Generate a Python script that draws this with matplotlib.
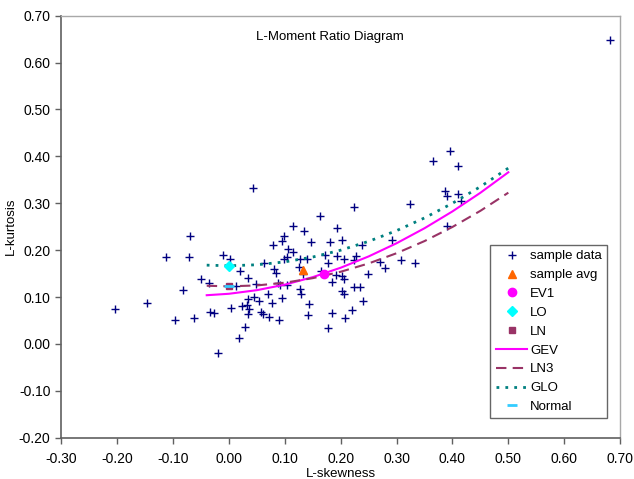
import numpy as np
import matplotlib
matplotlib.use('Agg')
import matplotlib.pyplot as plt

plt.rcParams['font.family'] = ['Liberation Sans', 'DejaVu Sans']
plt.rcParams['font.size'] = 9.5

sample_skew = [
    0.042, -0.070, -0.113, -0.071, -0.010, 0.002, -0.051, -0.036, -0.082, -0.147,
    -0.205, -0.096, -0.062, -0.034, -0.027, -0.020, 0.012,
    0.115, 0.134, 0.098, 0.094, 0.079, 0.106, 0.115, 0.104, 0.099, 0.127,
    0.063, 0.081, 0.084, 0.020, 0.034, 0.125, 0.132, 0.048, 0.088, 0.091,
    0.104, 0.127, 0.129, 0.034, 0.045, 0.054, 0.070, 0.094, 0.076, 0.024,
    0.033, 0.036, 0.003, 0.057, 0.060, 0.072, 0.034, 0.090, 0.029, 0.018,
    0.224, 0.163, 0.193, 0.147, 0.181, 0.202, 0.238, 0.139, 0.172, 0.193,
    0.205, 0.227, 0.224, 0.177, 0.164, 0.192, 0.203, 0.205, 0.248, 0.185,
    0.202, 0.206, 0.224, 0.234, 0.143, 0.142, 0.185, 0.208, 0.220, 0.239,
    0.177,
    0.396, 0.365, 0.410, 0.387, 0.391, 0.409, 0.415, 0.324, 0.390, 0.291,
    0.270, 0.279, 0.307, 0.333,
    0.682,
]
sample_kurt = [
    0.333, 0.230, 0.186, 0.186, 0.190, 0.181, 0.139, 0.131, 0.115, 0.087,
    0.075, 0.051, 0.055, 0.068, 0.065, -0.019, 0.124,
    0.252, 0.241, 0.230, 0.220, 0.212, 0.202, 0.196, 0.185, 0.181, 0.181,
    0.173, 0.159, 0.151, 0.156, 0.141, 0.165, 0.149, 0.128, 0.129, 0.125,
    0.126, 0.117, 0.107, 0.095, 0.101, 0.092, 0.106, 0.097, 0.087, 0.081,
    0.083, 0.074, 0.076, 0.068, 0.063, 0.058, 0.063, 0.050, 0.037, 0.013,
    0.293, 0.273, 0.247, 0.217, 0.217, 0.222, 0.211, 0.182, 0.190, 0.188,
    0.181, 0.188, 0.179, 0.172, 0.156, 0.147, 0.144, 0.138, 0.149, 0.133,
    0.113, 0.106, 0.121, 0.121, 0.085, 0.062, 0.067, 0.055, 0.072, 0.092,
    0.034,
    0.411, 0.390, 0.380, 0.327, 0.316, 0.319, 0.305, 0.299, 0.252, 0.222,
    0.175, 0.161, 0.179, 0.173,
    0.649,
]

avg_point = (0.132, 0.158)
ev1_point = (0.170, 0.150)
lo_point = (0.000, 0.167)
ln_point = (0.000, 0.123)
normal_point = (0.000, 0.123)

# theoretical curves, values read at these L-skewness positions
curve_skew = [-0.04, 0.00, 0.05, 0.10, 0.15, 0.20, 0.25, 0.30, 0.35, 0.40, 0.45, 0.50]
gev_kurt = [0.1039, 0.1070, 0.1147, 0.1265, 0.1425, 0.1626, 0.1867, 0.2148, 0.2468, 0.2827, 0.3224, 0.3661]
ln3_kurt = [0.1241, 0.1228, 0.1248, 0.1306, 0.1403, 0.1540, 0.1717, 0.1935, 0.2194, 0.2495, 0.2839, 0.3226]
glo_kurt = [0.1680, 0.1667, 0.1688, 0.1750, 0.1854, 0.2000, 0.2188, 0.2417, 0.2688, 0.3000, 0.3354, 0.3750]

x_ticks = np.arange(-0.3, 0.701, 0.1)
y_ticks = np.arange(-0.2, 0.701, 0.1)

fig = plt.figure(figsize=(6.34, 4.79), dpi=100)
ax = fig.add_axes([0.097, 0.0862, 0.881, 0.881])

ax.plot(sample_skew, sample_kurt, '+', color='#000080', ms=6, mew=1.0,
        label='sample data', zorder=3)
ax.plot(*avg_point, '^', color='#FF6600', ms=6, label='sample avg', zorder=5)
ax.plot(*ev1_point, 'o', color='#FF00FF', ms=6, label='EV1', zorder=5)
ax.plot(*lo_point, 'D', color='#00FFFF', ms=5, label='LO', zorder=5)
ax.plot(*ln_point, 's', color='#993366', ms=4.5, label='LN', zorder=5)
ax.plot(curve_skew, gev_kurt, '-', color='#FF00FF', lw=1.5, label='GEV', zorder=4)
ax.plot(curve_skew, ln3_kurt, '--', color='#993366', lw=1.5, dashes=(5, 3),
        label='LN3', zorder=4)
ax.plot(curve_skew, glo_kurt, ':', color='#008080', lw=2.0, dashes=(1, 2.2),
        label='GLO', zorder=4)
ax.plot(*normal_point, '_', color='#33CCFF', ms=7, mew=2, label='Normal', zorder=6)

ax.set_xlim(-0.3, 0.7)
ax.set_ylim(-0.2, 0.7)
ax.set_xticks(x_ticks)
ax.set_yticks(y_ticks)
ax.xaxis.set_major_formatter(plt.FormatStrFormatter('%.2f'))
ax.yaxis.set_major_formatter(plt.FormatStrFormatter('%.2f'))
ax.tick_params(direction='out', length=4, width=1, color='#606060', labelsize=10)
ax.tick_params(axis='x', pad=6)
ax.tick_params(axis='y', pad=4)

for side in ['left', 'bottom']:
    ax.spines[side].set_color('#606060')
    ax.spines[side].set_linewidth(1.2)
for side in ['top', 'right']:
    ax.spines[side].set_color('#a8a8a8')
    ax.spines[side].set_linewidth(1.0)

ax.set_xlabel('L-skewness', fontsize=9.5, labelpad=2)
ax.set_ylabel('L-kurtosis', fontsize=9.5, labelpad=1)
ax.text(0.48, 0.95, 'L-Moment Ratio Diagram', transform=ax.transAxes,
        ha='center', va='center', fontsize=9.5)

leg = ax.legend(loc='upper left', bbox_to_anchor=(0.768, 0.457), fontsize=9.5,
                frameon=True, fancybox=False, borderaxespad=0, borderpad=0.4,
                handlelength=2.4, handletextpad=0.2, labelspacing=0.5,
                numpoints=1)
leg.get_frame().set_edgecolor('#404040')
leg.get_frame().set_linewidth(1.0)

fig.savefig('out.png', dpi=100)
